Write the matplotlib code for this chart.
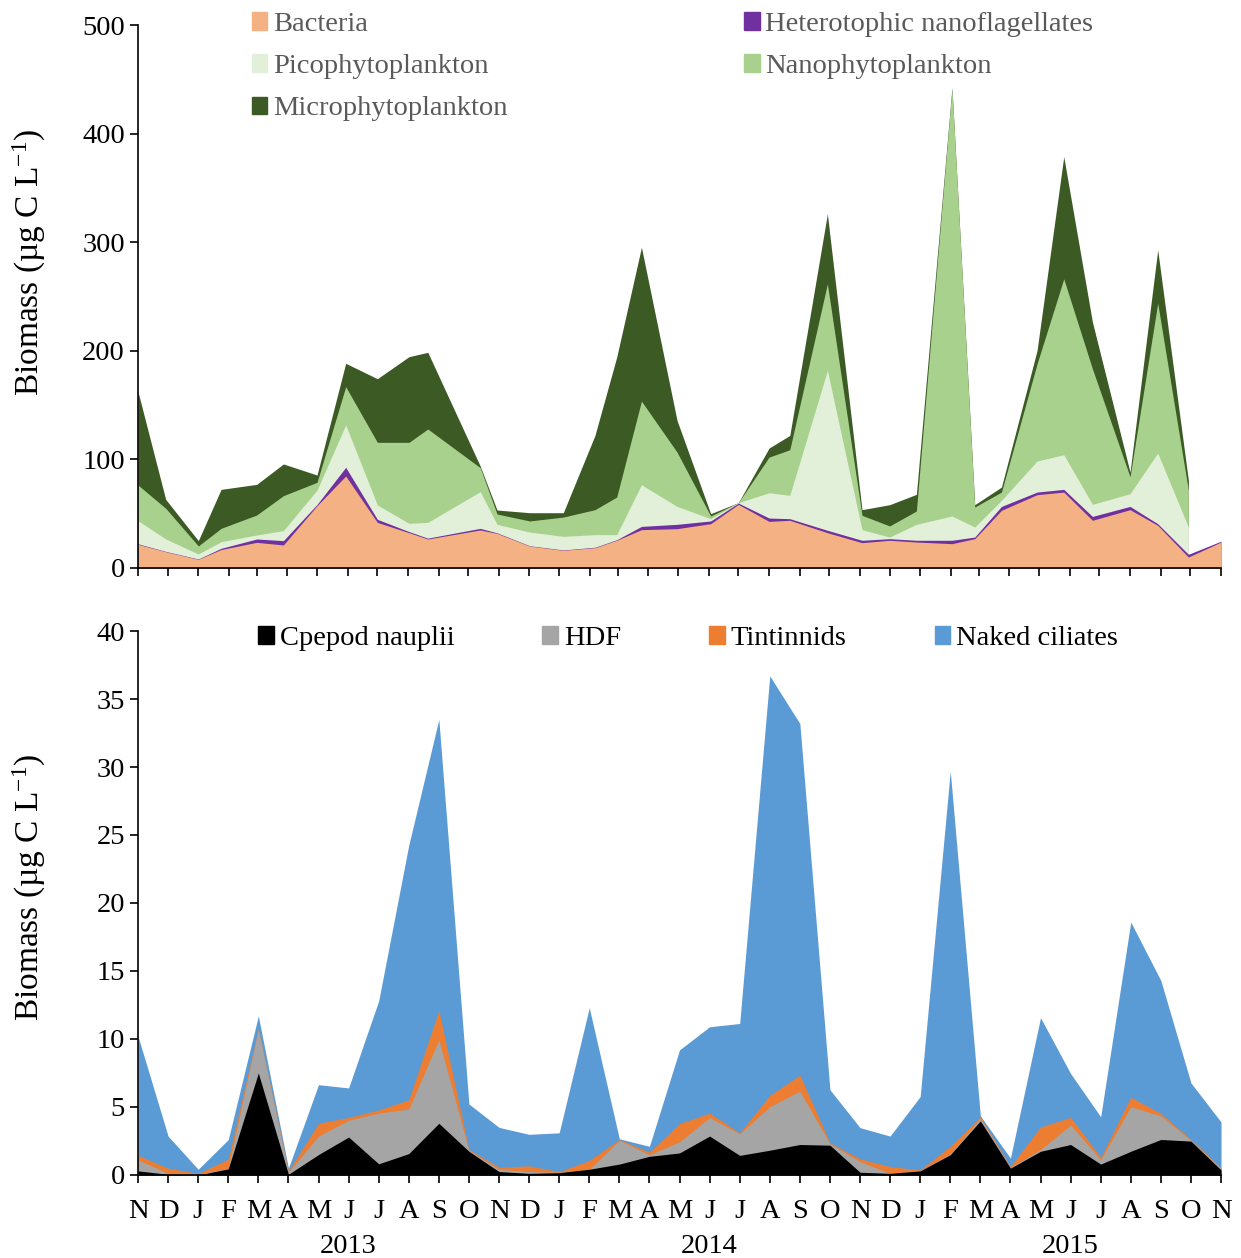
import numpy as np
import pandas as pd
import matplotlib
matplotlib.use("Agg")
import matplotlib.pyplot as plt
import matplotlib.dates as mdates
from matplotlib.patches import Patch

plt.rcParams["font.family"] = ["Liberation Serif", "DejaVu Serif"]
plt.rcParams["mathtext.default"] = "regular"

# ---- upper panel: bacteria + phytoplankton, irregular sampling dates ----
sample_dates = pd.to_datetime([
    "2012-11-01", "2012-11-29", "2013-01-01", "2013-01-24", "2013-03-01",
    "2013-03-28", "2013-05-01", "2013-05-30", "2013-07-01", "2013-08-02",
    "2013-08-21", "2013-10-13", "2013-10-30", "2013-12-02", "2014-01-05",
    "2014-02-06", "2014-02-28", "2014-03-25", "2014-04-30", "2014-06-03",
    "2014-07-01", "2014-08-01", "2014-08-22", "2014-09-29", "2014-11-03",
    "2014-12-01", "2014-12-28", "2015-02-02", "2015-02-25", "2015-03-24",
    "2015-04-29", "2015-05-26", "2015-06-24", "2015-08-01", "2015-08-29",
    "2015-09-29", "2015-11-01",
])
bacteria = [21.8, 15.0, 8.0, 17.0, 23.6, 21.2, 57.4, 84.7, 42.0, 32.5, 26.7, 35.0,
            31.9, 20.2, 16.3, 18.7, 25.5, 35.3, 36.2, 40.8, 58.6, 42.9, 43.9, 32.5,
            23.3, 25.5, 23.9, 22.4, 27.0, 53.1, 67.5, 69.9, 43.9, 53.7, 39.3, 10.1, 23.9]
hnf = [0.5, 0.3, 0.3, 1.1, 3.1, 4.0, 1.1, 8.0, 2.8, 1.0, 0.8, 1.5, 0.5, 0.3, 0.3,
       0.4, 0.5, 3.0, 4.0, 2.5, 1.2, 3.1, 1.5, 2.2, 2.2, 1.5, 1.6, 3.1, 1.5, 3.6,
       2.4, 2.5, 3.6, 3.0, 1.5, 2.5, 0.8]
# phytoplankton not sampled on the last date
pico = [21.3, 11.4, 4.6, 6.1, 3.7, 9.2, 13.3, 39.0, 13.2, 7.6, 14.5, 33.8, 7.8,
        12.6, 12.5, 11.6, 4.7, 38.4, 16.5, 2.1, 0.3, 23.3, 21.5, 147.2, 9.8, 1.5,
        14.7, 22.4, 9.2, 5.6, 28.6, 31.9, 11.1, 11.7, 65.0, 25.1]
nano = [32.8, 28.3, 7.4, 12.3, 18.4, 32.2, 7.1, 35.3, 57.7, 74.6, 86.0, 22.1, 9.5,
        10.2, 17.8, 23.0, 34.6, 77.0, 50.0, 2.5, 0.1, 32.8, 42.0, 79.8, 13.2, 10.2,
        12.3, 394.0, 18.4, 7.6, 89.5, 162.0, 124.8, 15.6, 138.1, 33.8]
micro = [85.9, 8.2, 4.9, 35.9, 28.2, 29.2, 6.7, 21.5, 58.6, 78.9, 70.6, 1.5, 3.7,
         7.6, 4.0, 68.4, 128.9, 141.7, 29.2, 2.1, 0.0, 8.3, 13.2, 64.4, 5.2, 19.6,
         15.3, 0.5, 2.2, 4.6, 12.3, 112.5, 43.0, 4.3, 49.0, 9.2]

# ---- lower panel: grazers, monthly ----
month_labels = ["N", "D", "J", "F", "M", "A", "M", "J", "J", "A", "S", "O"] * 3 + ["N"]
year_labels = ["2013", "2014", "2015"]
nauplii = [0.3, 0.05, 0.0, 0.45, 7.5, 0.05, 1.5, 2.79, 0.82, 1.57, 3.8, 1.74, 0.25,
           0.12, 0.17, 0.42, 0.8, 1.37, 1.62, 2.86, 1.44, 1.82, 2.24, 2.19, 0.2,
           0.12, 0.3, 1.49, 3.98, 0.5, 1.74, 2.24, 0.8, 1.74, 2.61, 2.49, 0.37]
hdf = [0.82, 0.07, 0.05, 0.05, 3.2, 0.15, 1.36, 1.24, 3.73, 3.28, 6.15, 0.05, 0.17,
       0.13, 0.03, 0.0, 1.74, 0.12, 0.82, 1.37, 1.59, 3.2, 3.93, 0.1, 0.79, 0.0,
       0.02, 0.05, 0.2, 0.05, 0.13, 1.44, 0.32, 3.28, 1.74, 0.05, 0.13]
tintinnids = [0.32, 0.38, 0.07, 0.67, 0.05, 0.1, 0.94, 0.2, 0.23, 0.67, 2.15, 0.08,
              0.15, 0.42, 0.05, 0.65, 0.07, 0.18, 1.34, 0.32, 0.07, 0.83, 1.17, 0.07,
              0.2, 0.5, 0.05, 0.57, 0.1, 0.07, 1.66, 0.55, 0.17, 0.7, 0.18, 0.07, 0.05]
naked = [8.76, 2.36, 0.3, 1.43, 0.95, 0.2, 2.84, 2.17, 8.02, 18.73, 21.4, 3.35, 2.93,
         2.32, 2.85, 11.23, 0.05, 0.44, 5.42, 6.35, 8.04, 30.85, 25.86, 3.91, 2.29,
         2.24, 5.4, 27.59, 0.07, 0.62, 8.04, 3.23, 2.99, 12.88, 9.77, 4.16, 3.35]

top_colors = {"Bacteria": "#F4B183", "Heterotophic nanoflagellates": "#7030A0",
              "Picophytoplankton": "#E2F0D9", "Nanophytoplankton": "#A9D18E",
              "Microphytoplankton": "#3B5A24"}
bot_colors = {"Cpepod nauplii": "#000000", "HDF": "#A5A5A5",
              "Tintinnids": "#ED7D31", "Naked ciliates": "#5B9BD5"}

FS = 20.5
YLABEL = r"Biomass (µg C L$^{-1}$)"

fig = plt.figure(figsize=(12.41, 12.58), dpi=100)
ax1 = fig.add_axes([0.1112, 0.5485, 0.8727, 0.4316])
ax2 = fig.add_axes([0.1112, 0.0660, 0.8727, 0.4324])


def style_axis(ax):
    for side in ("top", "right"):
        ax.spines[side].set_visible(False)
    for side in ("left", "bottom"):
        ax.spines[side].set_linewidth(1.2)
    ax.tick_params(direction="out", length=6, width=1.2, labelsize=FS, colors="black")


# upper stack: draw cumulative tops from zero, largest first, so layers never show seams
t = sample_dates
lvl_b = np.array(bacteria)
lvl_h = lvl_b + np.array(hnf)
n = len(pico)
lvl_p = lvl_h[:n] + np.array(pico)
lvl_n = lvl_p + np.array(nano)
lvl_m = lvl_n + np.array(micro)
ax1.fill_between(t[:n], 0, lvl_m, color=top_colors["Microphytoplankton"], lw=0)
ax1.fill_between(t[:n], 0, lvl_n, color=top_colors["Nanophytoplankton"], lw=0)
ax1.fill_between(t[:n], 0, lvl_p, color=top_colors["Picophytoplankton"], lw=0)
ax1.fill_between(t, 0, lvl_h, color=top_colors["Heterotophic nanoflagellates"], lw=0)
ax1.fill_between(t, 0, lvl_b, color=top_colors["Bacteria"], lw=0)

ax1.set_xlim(pd.Timestamp("2012-11-01"), pd.Timestamp("2015-11-01"))
ax1.set_ylim(0, 500)
ax1.set_yticks(range(0, 501, 100))
ax1.xaxis.set_major_locator(mdates.MonthLocator())
ax1.xaxis.set_major_formatter(plt.NullFormatter())
style_axis(ax1)
ax1.set_ylabel(YLABEL, fontsize=24)
ax1.yaxis.set_label_coords(-0.083, 0.563)

order = ["Bacteria", "Picophytoplankton", "Microphytoplankton",
         "Heterotophic nanoflagellates", "Nanophytoplankton"]
leg1 = ax1.legend([Patch(color=top_colors[k]) for k in order], order, ncol=2,
                  loc="upper left", bbox_to_anchor=(0.105, 1.024), frameon=False,
                  fontsize=FS, handlelength=0.55, handleheight=0.55,
                  handletextpad=0.2, columnspacing=8.3, labelspacing=0.6,
                  borderpad=0, borderaxespad=0)
for txt in leg1.get_texts():
    txt.set_color("#595959")

# lower stack, monthly categories
x = np.arange(len(nauplii))
lv1 = np.array(nauplii)
lv2 = lv1 + np.array(hdf)
lv3 = lv2 + np.array(tintinnids)
lv4 = lv3 + np.array(naked)
ax2.fill_between(x, 0, lv4, color=bot_colors["Naked ciliates"], lw=0)
ax2.fill_between(x, 0, lv3, color=bot_colors["Tintinnids"], lw=0)
ax2.fill_between(x, 0, lv2, color=bot_colors["HDF"], lw=0)
ax2.fill_between(x, 0, lv1, color=bot_colors["Cpepod nauplii"], lw=0)

ax2.set_xlim(0, len(x) - 1)
ax2.set_ylim(0, 40)
ax2.set_yticks(range(0, 41, 5))
ax2.set_xticks(x)
ax2.set_xticklabels(month_labels)
style_axis(ax2)
ax2.tick_params(axis="x", pad=11)
ax2.set_ylabel(YLABEL, fontsize=24)
ax2.yaxis.set_label_coords(-0.083, 0.528)
for i, yr in enumerate(year_labels):
    ax2.text(7 + 12 * i, -0.131, yr, transform=ax2.get_xaxis_transform(),
             ha="center", va="center", fontsize=FS)

names = list(bot_colors)
ax2.legend([Patch(color=bot_colors[k]) for k in names], names, ncol=4,
           loc="upper left", bbox_to_anchor=(0.111, 1.009), frameon=False,
           fontsize=FS, handlelength=0.55, handleheight=0.55, handletextpad=0.2,
           columnspacing=3.1, borderpad=0, borderaxespad=0)

fig.savefig("out.png", dpi=100, facecolor="white")
